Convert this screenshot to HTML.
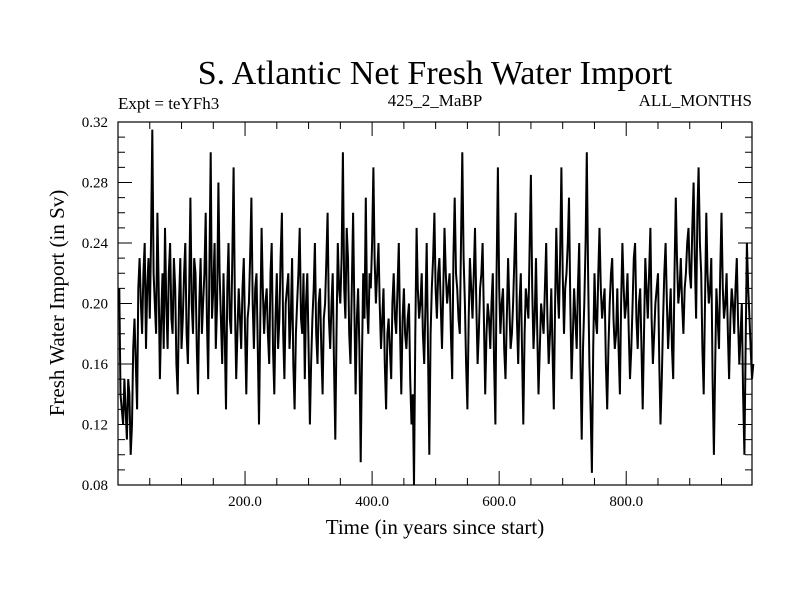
<!DOCTYPE html>
<html><head><meta charset="utf-8"><style>
body{margin:0;background:#fff}
svg text{font-family:"Liberation Serif",serif;fill:#000}
</style></head><body>
<svg id="chart" width="800" height="600" xmlns="http://www.w3.org/2000/svg">
<rect width="800" height="600" fill="#fff"/>
<text x="435" y="84" font-size="34" text-anchor="middle">S. Atlantic Net Fresh Water Import</text>
<text x="118" y="109" font-size="17">Expt = teYFh3</text>
<text x="435" y="106" font-size="17" text-anchor="middle">425_2_MaBP</text>
<text x="752" y="106" font-size="17" text-anchor="end">ALL_MONTHS</text>
<text transform="translate(64,303) rotate(-90)" font-size="21" text-anchor="middle">Fresh Water Import (in Sv)</text>
<text x="435" y="534" font-size="21" text-anchor="middle">Time (in years since start)</text>
<g id="axes"></g>
<g id="series"></g>
<rect x="118" y="122" width="634" height="363" fill="none" stroke="#000" stroke-width="1.2"/>
</svg>
<script>
const yTicks=[0.08,0.12,0.16,0.20,0.24,0.28,0.32];
const yTickLabels=["0.08","0.12","0.16","0.20","0.24","0.28","0.32"];
const xTicks=[200,400,600,800];
const xTickLabels=["200.0","400.0","600.0","800.0"];
const yearStart=2, yearStep=4;
const importValues=[
0.21,0.13,0.15,0.11,0.14,0.12,0.19,0.13,0.23,0.18,0.24,0.21,0.19,0.315,0.20,0.26,0.15,0.22,0.25,0.17,0.24,0.18,0.21,0.14,0.23,
0.19,0.24,0.16,0.27,0.18,0.22,0.14,0.23,0.20,0.26,0.15,0.30,0.21,0.17,0.28,0.19,0.22,0.13,0.24,0.18,0.29,0.15,0.21,0.17,0.23,
0.14,0.20,0.27,0.17,0.22,0.12,0.25,0.18,0.21,0.16,0.24,0.14,0.22,0.19,0.26,0.15,0.21,0.17,0.23,0.13,0.20,0.25,0.18,0.15,0.22,
0.12,0.19,0.24,0.16,0.21,0.14,0.20,0.26,0.17,0.22,0.11,0.24,0.20,0.30,0.19,0.23,0.16,0.26,0.14,0.21,0.095,0.22,0.27,0.18,0.21,
0.29,0.20,0.24,0.17,0.21,0.13,0.19,0.15,0.22,0.18,0.24,0.14,0.21,0.17,0.20,0.12,0.08,0.25,0.19,0.22,0.16,0.24,0.10,0.21,0.26,
0.19,0.23,0.17,0.25,0.20,0.22,0.15,0.27,0.21,0.18,0.30,0.20,0.13,0.23,0.19,0.25,0.16,0.21,0.24,0.14,0.20,0.17,0.22,0.12,0.29,
0.18,0.21,0.15,0.23,0.17,0.20,0.26,0.16,0.22,0.12,0.21,0.19,0.285,0.17,0.23,0.14,0.20,0.18,0.24,0.16,0.21,0.13,0.25,0.19,0.29,
0.18,0.22,0.27,0.15,0.21,0.17,0.24,0.11,0.20,0.30,0.16,0.088,0.22,0.18,0.25,0.19,0.21,0.13,0.20,0.23,0.17,0.21,0.14,0.24,0.19,
0.22,0.15,0.20,0.24,0.17,0.21,0.13,0.23,0.19,0.25,0.16,0.20,0.22,0.12,0.19,0.24,0.17,0.21,0.15,0.27,0.20,0.23,0.18,0.22,0.25,
0.21,0.28,0.19,0.29,0.22,0.14,0.26,0.20,0.23,0.10,0.21,0.17,0.26,0.19,0.22,0.15,0.21,0.18,0.23,0.16,0.20,0.10,0.24,0.19,0.15];
// intermediate years (yearStart + 2 + i*yearStep)
const importValuesMid=[
0.14,0.12,0.13,0.15,0.10,0.17,0.16,0.21,0.20,0.22,0.17,0.23,0.24,0.22,0.18,0.21,0.19,0.17,0.20,0.22,0.19,0.23,0.16,0.20,0.17,
0.22,0.18,0.21,0.20,0.23,0.17,0.20,0.18,0.22,0.19,0.23,0.19,0.24,0.20,0.22,0.16,0.18,0.21,0.19,0.23,0.20,0.18,0.19,0.21,0.18,
0.19,0.23,0.20,0.21,0.17,0.19,0.21,0.20,0.18,0.22,0.17,0.19,0.17,0.23,0.18,0.20,0.22,0.19,0.16,0.18,0.22,0.19,0.22,0.20,0.17,
0.16,0.21,0.18,0.20,0.17,0.19,0.23,0.19,0.20,0.16,0.18,0.21,0.23,0.21,0.25,0.18,0.21,0.20,0.19,0.17,0.16,0.19,0.20,0.22,0.24,
0.23,0.22,0.20,0.19,0.16,0.18,0.17,0.20,0.19,0.21,0.18,0.19,0.18,0.19,0.15,0.14,0.18,0.21,0.20,0.18,0.20,0.17,0.18,0.23,0.21,
0.22,0.20,0.21,0.22,0.21,0.18,0.23,0.22,0.19,0.24,0.23,0.16,0.19,0.21,0.22,0.20,0.18,0.22,0.19,0.18,0.19,0.20,0.16,0.22,0.21,
0.20,0.17,0.19,0.20,0.18,0.23,0.19,0.20,0.17,0.18,0.20,0.24,0.21,0.19,0.18,0.17,0.19,0.21,0.19,0.18,0.17,0.20,0.21,0.23,0.22,
0.21,0.24,0.20,0.18,0.19,0.21,0.16,0.17,0.24,0.22,0.13,0.17,0.19,0.22,0.21,0.20,0.16,0.17,0.22,0.19,0.18,0.17,0.20,0.21,0.20,
0.18,0.17,0.23,0.19,0.20,0.17,0.18,0.21,0.22,0.19,0.18,0.21,0.16,0.15,0.22,0.20,0.19,0.17,0.22,0.23,0.21,0.20,0.21,0.24,0.22,
0.25,0.23,0.26,0.24,0.17,0.20,0.22,0.21,0.15,0.16,0.19,0.22,0.21,0.20,0.18,0.19,0.20,0.21,0.19,0.18,0.14,0.17,0.21,0.17,0.16];
const X0=118,X1=752,Y0=485,Y1=122,XMIN=0,XMAX=998,YMIN=0.08,YMAX=0.32;
const xs=v=>X0+(v-XMIN)/(XMAX-XMIN)*(X1-X0);
const ys=v=>Y0-(v-YMIN)/(YMAX-YMIN)*(Y0-Y1);
const NS="http://www.w3.org/2000/svg";
const axes=document.getElementById('axes');
function mk(tag,attrs,parent){const e=document.createElementNS(NS,tag);for(const k in attrs)e.setAttribute(k,attrs[k]);parent.appendChild(e);return e;}
for(let i=0;i<=24;i++){const v=YMIN+i*0.01,y=ys(v),maj=i%4===0,len=maj?14:7;
 const t=mk('path',{d:`M${X0} ${y}h${len}M${X1} ${y}h${-len}`,stroke:'#000','stroke-width':1},axes);
 
 }
yTicks.forEach((v,i)=>{const t=mk('text',{x:108,y:ys(v)+5,'font-size':15,'text-anchor':'end'},axes);t.textContent=yTickLabels[i];
 
 });
for(let yr=50;yr<XMAX;yr+=50){const x=xs(yr),maj=yr%200===0,len=maj?14:7;
 const t=mk('path',{d:`M${x} ${Y0}v${-len}M${x} ${Y1}v${len}`,stroke:'#000','stroke-width':1},axes);
 
 }
xTicks.forEach((v,i)=>{const t=mk('text',{x:xs(v),y:506,'font-size':15,'text-anchor':'middle'},axes);t.textContent=xTickLabels[i];
 
 });
const pts=[];
importValues.forEach((v,i)=>{pts.push([yearStart+i*yearStep,v]);
 if(i<importValuesMid.length)pts.push([yearStart+2+i*yearStep,importValuesMid[i]]);});
const d=pts.map((p,i)=>(i?'L':'M')+xs(p[0]).toFixed(1)+' '+ys(p[1]).toFixed(1)).join('');
const line=mk('path',{d:d,fill:'none',stroke:'#000','stroke-width':2,'stroke-linejoin':'miter'},document.getElementById('series'));


</script>
</body></html>
